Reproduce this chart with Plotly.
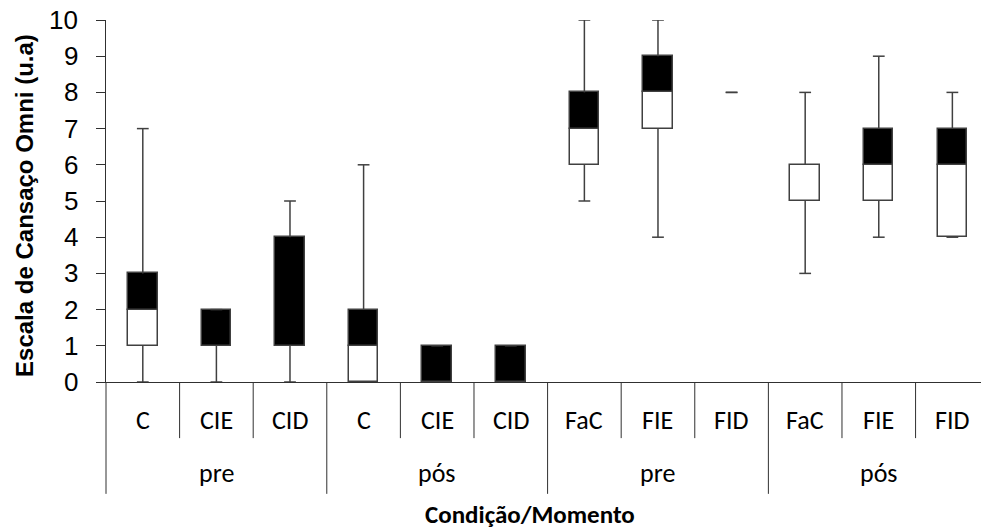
import plotly.graph_objects as go

# Omni fatigue scale: five-number summaries per condition and moment
condicoes = ["C", "CIE", "CID", "C", "CIE", "CID",
             "FaC", "FIE", "FID", "FaC", "FIE", "FID"]
momentos = ["pre", "pós", "pre", "pós"]
minimo = [0, 0, 0, 0, 0, 0, 5, 4, 8, 3, 4, 4]
q1 = [1, 1, 1, 0, 0, 0, 6, 7, 8, 5, 5, 4]
mediana = [2, 1, 1, 1, 0, 0, 7, 8, 8, 6, 6, 6]
q3 = [3, 2, 4, 2, 1, 1, 8, 9, 8, 6, 7, 7]
maximo = [7, 2, 5, 6, 1, 1, 10, 10, 8, 8, 9, 8]
y_ticks = list(range(0, 11))

LINE = "#404040"
AXIS = "#303030"
CAT_FONT = "Carlito, Lato, sans-serif"
NUM_FONT = "Arial, Liberation Sans, sans-serif"

xs = list(range(len(condicoes)))


def seg(lo, hi):
    h = hi - lo
    return h if h > 0 else None


fig = go.Figure()

# lower half of each box (Q1 -> median), white
fig.add_trace(go.Bar(
    x=xs, y=[seg(a, b) for a, b in zip(q1, mediana)], base=q1,
    width=0.4, marker=dict(color="white", line=dict(color=LINE, width=1.5)),
    hoverinfo="skip", showlegend=False,
))
# upper half of each box (median -> Q3), black
fig.add_trace(go.Bar(
    x=xs, y=[seg(a, b) for a, b in zip(mediana, q3)], base=mediana,
    width=0.4, marker=dict(color="black", line=dict(color=LINE, width=1.5)),
    hoverinfo="skip", showlegend=False,
))

# whiskers with end caps
cap = 0.08
wx, wy = [], []
for i in xs:
    wx += [i, i, None, i - cap, i + cap, None]
    wy += [q3[i], maximo[i], None, maximo[i], maximo[i], None]
    wx += [i, i, None, i - cap, i + cap, None]
    wy += [q1[i], minimo[i], None, minimo[i], minimo[i], None]
fig.add_trace(go.Scatter(
    x=wx, y=wy, mode="lines", line=dict(color=LINE, width=1.5),
    cliponaxis=False, hoverinfo="skip", showlegend=False,
))

# two-level category labels and dividers below the axis
y_inner_div = -0.155
y_outer_div = -0.309
shapes = []
n = len(condicoes)
for k in range(n):
    b = k - 0.5
    outer = (k % 3 == 0)
    if k == 0:
        shapes.append(dict(type="line", xref="paper", yref="paper",
                           x0=0, x1=0, y0=0, y1=y_outer_div,
                           line=dict(color=AXIS, width=1)))
    else:
        shapes.append(dict(type="line", xref="x", yref="paper",
                           x0=b, x1=b, y0=0,
                           y1=y_outer_div if outer else y_inner_div,
                           line=dict(color=AXIS, width=1)))

annotations = []
# value labels of the vertical axis, right-aligned left of the tick marks
for v in y_ticks:
    annotations.append(dict(x=-0.0297, y=v, xref="paper", yref="y",
                            text=str(v), showarrow=False,
                            xanchor="right", yanchor="middle",
                            font=dict(family=NUM_FONT, size=26, color="black")))
for i, lab in enumerate(condicoes):
    annotations.append(dict(x=i, y=-0.105, xref="x", yref="paper",
                            text=lab, showarrow=False, yanchor="middle",
                            font=dict(family=CAT_FONT, size=26, color="black")))
for g, lab in enumerate(momentos):
    annotations.append(dict(x=3 * g + 1, y=-0.252, xref="x", yref="paper",
                            text=lab, showarrow=False, yanchor="middle",
                            font=dict(family=CAT_FONT, size=26, color="black")))
annotations.append(dict(x=0.4846, y=-0.367, xref="paper", yref="paper",
                        text="<b>Condição/Momento</b>", showarrow=False,
                        yanchor="middle", xanchor="center",
                        font=dict(family=CAT_FONT, size=25, color="black")))
annotations.append(dict(x=-0.0926, y=0.489, xref="paper", yref="paper",
                        text="<b>Escala de Cansaço Omni (u.a)</b>",
                        textangle=-90, showarrow=False,
                        xanchor="center", yanchor="middle",
                        font=dict(family=NUM_FONT, size=24, color="black")))

fig.update_layout(
    width=981, height=532,
    margin=dict(l=106, r=0, t=20, b=150),
    paper_bgcolor="white", plot_bgcolor="white",
    barmode="overlay", bargap=0,
    shapes=shapes, annotations=annotations,
    xaxis=dict(range=[-0.5, 11.389], showticklabels=False, ticks="",
               showgrid=False, zeroline=False, showline=True,
               linecolor=AXIS, linewidth=1, fixedrange=True),
    yaxis=dict(range=[0, 10], tickvals=y_ticks, ticks="outside", ticklen=9,
               tickcolor=AXIS, tickwidth=1, showgrid=False, zeroline=False,
               showline=True, linecolor=AXIS, linewidth=1,
               showticklabels=False, fixedrange=True),
)

fig.write_html("out.html", config={"displayModeBar": False})
